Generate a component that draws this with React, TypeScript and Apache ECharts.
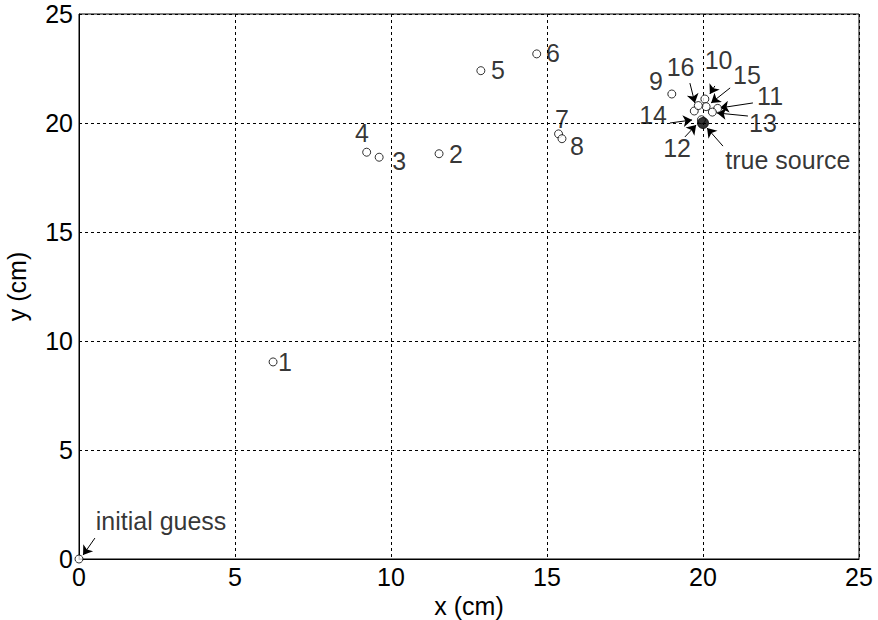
import React, { useEffect, useRef } from "react";
import * as echarts from "echarts";

const xTicks = [0, 5, 10, 15, 20, 25];
const yTicks = [0, 5, 10, 15, 20, 25];

// iterate estimates (iteration 1..16)
const iterNames = ["1", "2", "3", "4", "5", "6", "7", "8", "9", "10", "11", "12", "13", "14", "15", "16"];
const iterX = [6.22, 11.54, 9.62, 9.22, 12.88, 14.67, 15.37, 15.48, 19.0, 20.06, 20.47, 19.95, 20.3, 19.72, 20.1, 19.85];
const iterY = [9.04, 18.59, 18.43, 18.66, 22.4, 23.17, 19.5, 19.28, 21.33, 21.1, 20.67, 20.15, 20.5, 20.55, 20.75, 20.8];

const initialGuess = [0, 0];
const trueSource = [20, 20];

// annotation texts and their anchor (data coords)
const labelTexts = ["1", "2", "3", "4", "5", "6", "7", "8", "9", "16", "10", "15", "11", "13", "14", "12", "true source", "initial guess"];
const labelX = [6.6, 12.08, 10.26, 9.07, 13.43, 15.19, 15.48, 15.96, 18.49, 19.28, 20.5, 21.41, 22.15, 21.92, 18.4, 19.17, 22.72, 2.63];
const labelY = [9.04, 18.58, 18.26, 19.54, 22.43, 23.21, 20.18, 18.94, 21.93, 22.57, 22.9, 22.2, 21.24, 20.0, 20.37, 18.85, 18.3, 1.74];

// arrows: start -> tip (data coords)
const arrowFrom = [
  [19.58, 21.83], [20.38, 21.7], [20.87, 21.61], [21.6, 20.92], [21.44, 20.32],
  [18.94, 20.0], [19.42, 19.36], [20.64, 18.94], [0.51, 0.96],
];
const arrowTo = [
  [19.74, 20.92], [20.22, 21.33], [20.26, 20.92], [20.54, 20.69], [20.45, 20.46],
  [19.65, 20.14], [19.78, 19.91], [20.13, 19.77], [0.13, 0.18],
];

const FONT = "Liberation Sans";
const FS = 25;

export default function App() {
  const ref = useRef<HTMLDivElement>(null);
  useEffect(() => {
    document.body.style.margin = "0";
    const chart = echarts.init(ref.current!, null, { renderer: "svg" });
    const axisCommon = {
      min: 0,
      max: 25,
      interval: 5,
      axisLine: { show: true, lineStyle: { color: "#000", width: 1 } },
      axisTick: { show: false },
      splitLine: { show: true, lineStyle: { color: "#000", type: [3, 3], width: 1 } },
      axisLabel: { color: "#000", fontSize: FS, fontFamily: FONT },
      nameTextStyle: { color: "#000", fontSize: FS, fontFamily: FONT },
    };
    chart.setOption({
      animation: false,
      backgroundColor: "#fff",
      grid: {
        left: 79, right: 19, top: 14, bottom: 61,
        containLabel: false,
        outerBoundsMode: "none",
        show: true, borderColor: "#000", borderWidth: 1, backgroundColor: "transparent",
      },
      xAxis: {
        ...axisCommon,
        type: "value",
        name: "x (cm)",
        nameLocation: "middle",
        nameGap: 32,
        axisLabel: { ...axisCommon.axisLabel, margin: 5, formatter: (v: number) => (xTicks.includes(v) ? String(v) : "") },
      },
      yAxis: {
        ...axisCommon,
        type: "value",
        name: "y (cm)",
        nameLocation: "middle",
        nameGap: 50,
        axisLabel: { ...axisCommon.axisLabel, margin: 6, formatter: (v: number) => (yTicks.includes(v) ? String(v) : "") },
      },
      series: [
        {
          type: "lines",
          coordinateSystem: "cartesian2d",
          symbol: ["none", "arrow"],
          symbolSize: [0, 9],
          lineStyle: { color: "#000", width: 1, opacity: 1 },
          data: arrowFrom.map((f, i) => ({ coords: [f, arrowTo[i]] })),
          z: 3,
        },
        {
          type: "scatter",
          symbol: "circle",
          symbolSize: 8,
          itemStyle: { color: "#fff", borderColor: "#000", borderWidth: 1 },
          data: iterX.map((x, i) => ({ name: iterNames[i], value: [x, iterY[i]] })),
          z: 4,
        },
        {
          type: "scatter",
          symbol: "circle",
          symbolSize: 8,
          itemStyle: { color: "#fff", borderColor: "#000", borderWidth: 1 },
          data: [initialGuess],
          z: 4,
        },
        {
          type: "scatter",
          symbol: "circle",
          symbolSize: 11,
          itemStyle: { color: "#000", borderColor: "#000", borderWidth: 1 },
          data: [trueSource],
          z: 5,
        },
        {
          type: "scatter",
          symbolSize: 0,
          silent: true,
          label: {
            show: true,
            position: "inside",
            formatter: (p: any) => p.name,
            color: "#000",
            fontSize: FS,
            fontFamily: FONT,
          },
          data: labelTexts.map((t, i) => ({ name: t, value: [labelX[i], labelY[i]] })),
          z: 6,
        },
      ],
    });
    return () => chart.dispose();
  }, []);
  return <div ref={ref} style={{ width: 878, height: 620 }} />;
}
